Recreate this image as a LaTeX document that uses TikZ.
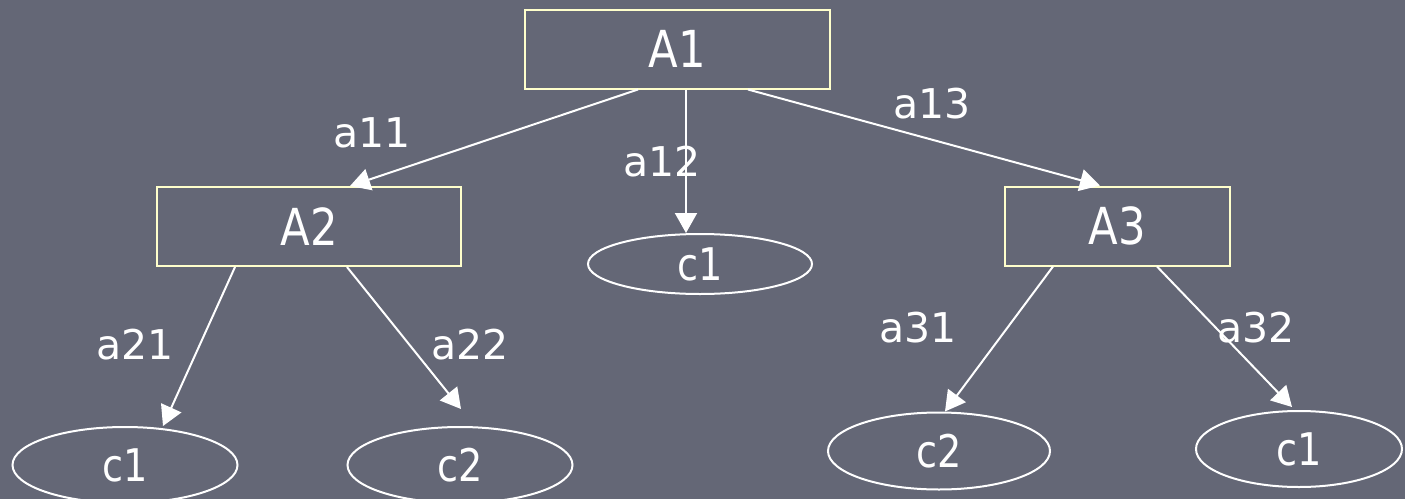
\documentclass[tikz,border=0pt]{standalone}
\usepackage{fontspec}
\setmainfont{DejaVu Sans}
\newfontfamily\narrowfont{DejaVu Sans}[FakeStretch=0.85]
\usetikzlibrary{arrows.meta,calc,shapes.geometric}

\definecolor{slidebg}{RGB}{100,103,118}
\definecolor{boxline}{RGB}{255,255,204}

\tikzset{
  box/.style={draw=boxline, line width=1pt, rectangle, inner sep=0pt,
    minimum height=39.5pt, text=white, font=\narrowfont\fontsize{25.5}{26}\selectfont},
  leaf/.style={draw=white, line width=1pt, ellipse, inner sep=0pt,
    text=white, font=\narrowfont\fontsize{22.5}{23}\selectfont},
  edge/.style={draw=white, line width=1pt, -{Triangle[length=10pt,width=11pt]}},
  lbl/.style={text=white, inner sep=0pt, font=\fontsize{20.5}{21}\selectfont},
}

\begin{document}
\begin{tikzpicture}[x=0.5pt,y=0.5pt,yscale=-1,xscale=1]
  \fill[slidebg] (0,0) rectangle (1405,499);
  \useasboundingbox (0,0) rectangle (1405,499);

  % decision nodes
  \node[box, minimum width=152.5pt] (A1) at (677.5,49) {A1};
  \node[box, minimum width=152pt] (A2) at (309,226.5) {A2};
  \node[box, minimum width=112.5pt] (A3) at (1117.5,226) {A3};

  % outcomes
  \node[leaf, minimum width=112pt, minimum height=30pt] (cm) at (700,264) {c1};
  \node[leaf, minimum width=112.5pt, minimum height=38pt] (cl1) at (125,465) {c1};
  \node[leaf, minimum width=112.5pt, minimum height=38pt] (cl2) at (460,465) {c2};
  \node[leaf, minimum width=111pt, minimum height=38.5pt] (cr2) at (939,451) {c2};
  \node[leaf, minimum width=103pt, minimum height=38pt] (cr1) at (1299,449) {c1};

  % branches
  \coordinate (s12) at ($(A1.south)+(8.5,0)$);
  \draw[edge] ($(A1.south)+(-39.5,0)$) -- ($(A2.north)+(41,0)$);
  \draw[edge] (s12) -- (s12 |- cm.north);
  \draw[edge] ($(A1.south)+(70.5,0)$) -- ($(A3.north)+(-17.5,0)$);
  \draw[edge] ($(A2.south)+(-74,0)$) -- ($(cl1.north)+(38,0)$);
  \draw[edge] ($(A2.south)+(38,0)$) -- ($(cl2.north)+(1,-17)$);
  \draw[edge] ($(A3.south)+(-64.5,0)$) -- ($(cr2.north)+(6,0)$);
  \draw[edge] ($(A3.south)+(39.5,0)$) -- ($(cr1.north)+(-7,-3)$);

  \node[lbl] (l11) at (372,133) {a11};
  \node[lbl] (l12) at (662,162) {a12};
  \node[lbl] (l13) at (932,104) {a13};
  \node[lbl] (l21) at (135,345) {a21};
  \node[lbl] (l22) at (470,345) {a22};
  \node[lbl] (l31) at (918,328) {a31};
  \node[lbl] (l32) at (1256,328) {a32};
\end{tikzpicture}
\end{document}
